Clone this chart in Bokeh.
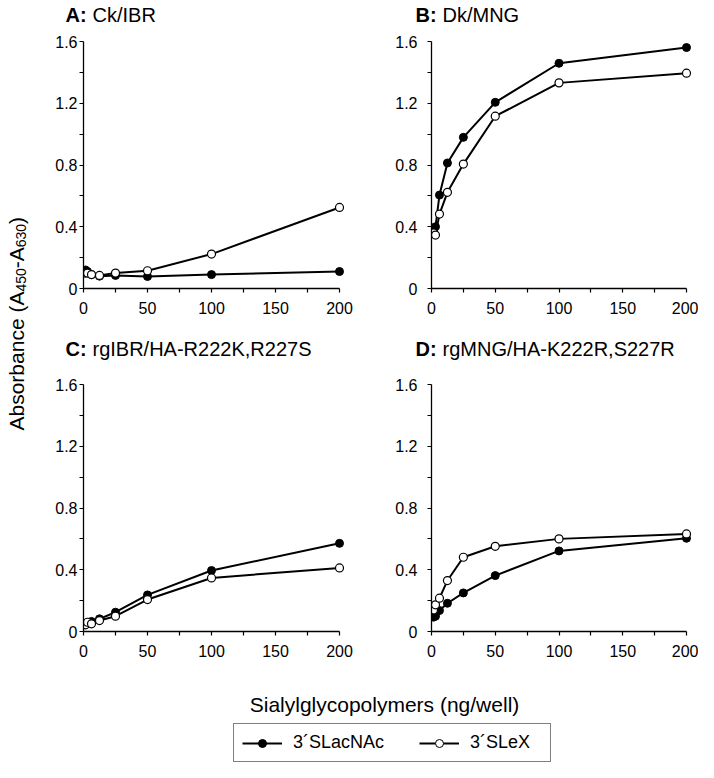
import math
from bokeh.plotting import figure
from bokeh.layouts import row, column
from bokeh.models import Range1d, FixedTicker, Legend, LegendItem
from bokeh.embed import file_html
from bokeh.resources import INLINE
from bokeh.core.properties import value

# ---------------- data ----------------
conc = [1.5625, 3.125, 6.25, 12.5, 25, 50, 100, 200]

a_slacnac = [0.12, 0.11, 0.09, 0.08, 0.085, 0.078, 0.09, 0.11]
a_slex = [0.10, 0.10, 0.09, 0.085, 0.10, 0.115, 0.223, 0.525]
b_slacnac = [0.37, 0.40, 0.605, 0.813, 0.979, 1.206, 1.459, 1.561]
b_slex = [0.36, 0.346, 0.482, 0.623, 0.806, 1.116, 1.332, 1.395]
c_slacnac = [0.05, 0.054, 0.065, 0.082, 0.125, 0.237, 0.395, 0.571]
c_slex = [0.043, 0.06, 0.05, 0.071, 0.099, 0.207, 0.347, 0.412]
d_slacnac = [0.093, 0.099, 0.136, 0.183, 0.25, 0.362, 0.522, 0.604]
d_slex = [0.14, 0.173, 0.216, 0.33, 0.481, 0.552, 0.60, 0.632]

panel_letters = ["A:", "B:", "C:", "D:"]
panel_names = ["Ck/IBR", "Dk/MNG", "rgIBR/HA-R222K,R227S", "rgMNG/HA-K222R,S227R"]
series_names = ["3\u00b4SLacNAc", "3\u00b4SLeX"]

x_ticks = [0, 50, 100, 150, 200]
x_minor = [25, 75, 125, 175]
y_ticks = [0, 0.4, 0.8, 1.2, 1.6]
y_minor = [0.2, 0.6, 1.0, 1.4]
y_tick_labels = ["0", "0.4", "0.8", "1.2", "1.6"]

x_label = "Sialylglycopolymers (ng/well)"
FONT = "Liberation Sans"


def blank(width, height):
    f = figure(width=width, height=height, output_backend="svg", toolbar_location=None,
               x_range=Range1d(0, width), y_range=Range1d(0, height),
               min_border=0, x_axis_location=None, y_axis_location=None)
    f.outline_line_color = None
    f.xgrid.visible = False
    f.ygrid.visible = False
    f.background_fill_color = "white"
    f.border_fill_color = "white"
    return f


# ---------------- panels ----------------
def make_panel(filled, opened, left_col, top_row):
    ppx = 1.28 if left_col else 1.275           # px per x unit
    frame_w = 261
    frame_h = 247
    width = 332 if left_col else 334
    mbl = 51 if left_col else 67
    mbr = width - mbl - frame_w
    height = 300 if top_row else 306
    mbt = 11 if top_row else 20
    mbb = height - mbt - frame_h
    p = figure(width=width, height=height, output_backend="svg", toolbar_location=None,
               x_range=Range1d(0, frame_w / ppx), y_range=Range1d(0, 1.6),
               min_border_left=mbl, min_border_right=mbr,
               min_border_top=mbt, min_border_bottom=mbb)
    p.outline_line_color = None
    p.xgrid.visible = False
    p.ygrid.visible = False
    p.background_fill_color = "white"
    p.border_fill_color = "white"

    xa = p.xaxis[0]
    ya = p.yaxis[0]
    xa.ticker = FixedTicker(ticks=x_ticks, minor_ticks=x_minor)
    ya.ticker = FixedTicker(ticks=y_ticks, minor_ticks=y_minor)
    ya.major_label_overrides = {t: s for t, s in zip(y_ticks, y_tick_labels)}
    xa.bounds = (0, 200)
    ya.bounds = (0, 1.6)
    for ax in (xa, ya):
        ax.axis_line_color = "black"
        ax.axis_line_width = 1.3
        ax.major_tick_in = 0
        ax.major_tick_out = 4
        ax.minor_tick_in = 0
        ax.minor_tick_out = 4
        ax.major_tick_line_color = "black"
        ax.minor_tick_line_color = "black"
        ax.major_tick_line_width = 1.2
        ax.minor_tick_line_width = 1.2
        ax.major_label_text_font = FONT
        ax.major_label_text_font_size = "16px"
        ax.major_label_text_color = "black"
    xa.major_label_standoff = 9
    ya.major_label_standoff = 2 if left_col else 10

    # series: filled first, open on top
    p.line(conc, filled, line_color="black", line_width=2)
    p.line(conc, opened, line_color="black", line_width=2)
    p.scatter(conc, filled, size=8, fill_color="black", line_color="black", line_width=1)
    p.scatter(conc, opened, size=8, fill_color="white", line_color="black", line_width=1.2)
    return p


def title_fig(height, letters, names, baseline):
    f = blank(666, height)
    for lx, let, nm in zip([33, 383], letters, names):
        f.text(x=[lx], y=[baseline], text=[let], text_font=value(FONT), text_font_size="20px",
               text_font_style="bold", text_color="black",
               text_align="left", text_baseline="alphabetic")
        f.text(x=[lx + 27], y=[baseline], text=[nm], text_font=value(FONT), text_font_size="20px",
               text_color="black", text_align="left", text_baseline="alphabetic")
    return f


pA = make_panel(a_slacnac, a_slex, True, True)
pB = make_panel(b_slacnac, b_slex, False, True)
pC = make_panel(c_slacnac, c_slex, True, False)
pD = make_panel(d_slacnac, d_slex, False, False)
t1 = title_fig(30, panel_letters[0:2], panel_names[0:2], 15.3)
t2 = title_fig(34, panel_letters[2:4], panel_names[2:4], 15.3)

# ---------------- y-axis label figure ----------------
py = blank(32, 670)
big, small = 21, 14
pieces = [("Absorbance (A", big, 0), ("450", small, 4), ("-A", big, 0), ("630", small, 4), (")", big, 0)]
em = {"Absorbance (A": 6.614, "450": 1.668, "-A": 1.0, "630": 1.668, ")": 0.333}
y0 = 240.0
bx = 16.0
for txt, fs, shift in pieces:
    py.text(x=[bx + shift], y=[y0], text=[txt], angle=math.pi / 2,
            text_font=value(FONT), text_font_size=f"{fs}px", text_color="black",
            text_align="left", text_baseline="alphabetic")
    y0 += em[txt] * fs

# ---------------- bottom figure: x label + legend ----------------
pb = blank(698, 98)
pb.text(x=[384], y=[64], text=[x_label], text_font=value(FONT), text_font_size="21px",
        text_color="black", text_align="center", text_baseline="alphabetic")

nan = float("nan")
l1 = pb.line(x=[nan], y=[nan], line_color="black", line_width=2)
s1 = pb.scatter(x=[nan], y=[nan], fill_color="black", line_color="black", size=8)
l2 = pb.line(x=[nan], y=[nan], line_color="black", line_width=2)
s2 = pb.scatter(x=[nan], y=[nan], fill_color="white", line_color="black", size=8)
legend = Legend(items=[LegendItem(label=series_names[0], renderers=[l1, s1]),
                       LegendItem(label=series_names[1], renderers=[l2, s2])],
                location=(233, 6), orientation="horizontal",
                padding=8, spacing=35, margin=0,
                glyph_width=40, glyph_height=20, label_standoff=11, label_width=72,
                label_text_font=FONT, label_text_font_size="18px", label_text_color="black",
                border_line_color="black", border_line_width=1,
                background_fill_color="white", background_fill_alpha=1.0)
pb.add_layout(legend)

layout = column(row(py, column(t1, row(pA, pB), t2, row(pC, pD))), pb)

with open("out.html", "w") as fh:
    fh.write(file_html(layout, INLINE))
